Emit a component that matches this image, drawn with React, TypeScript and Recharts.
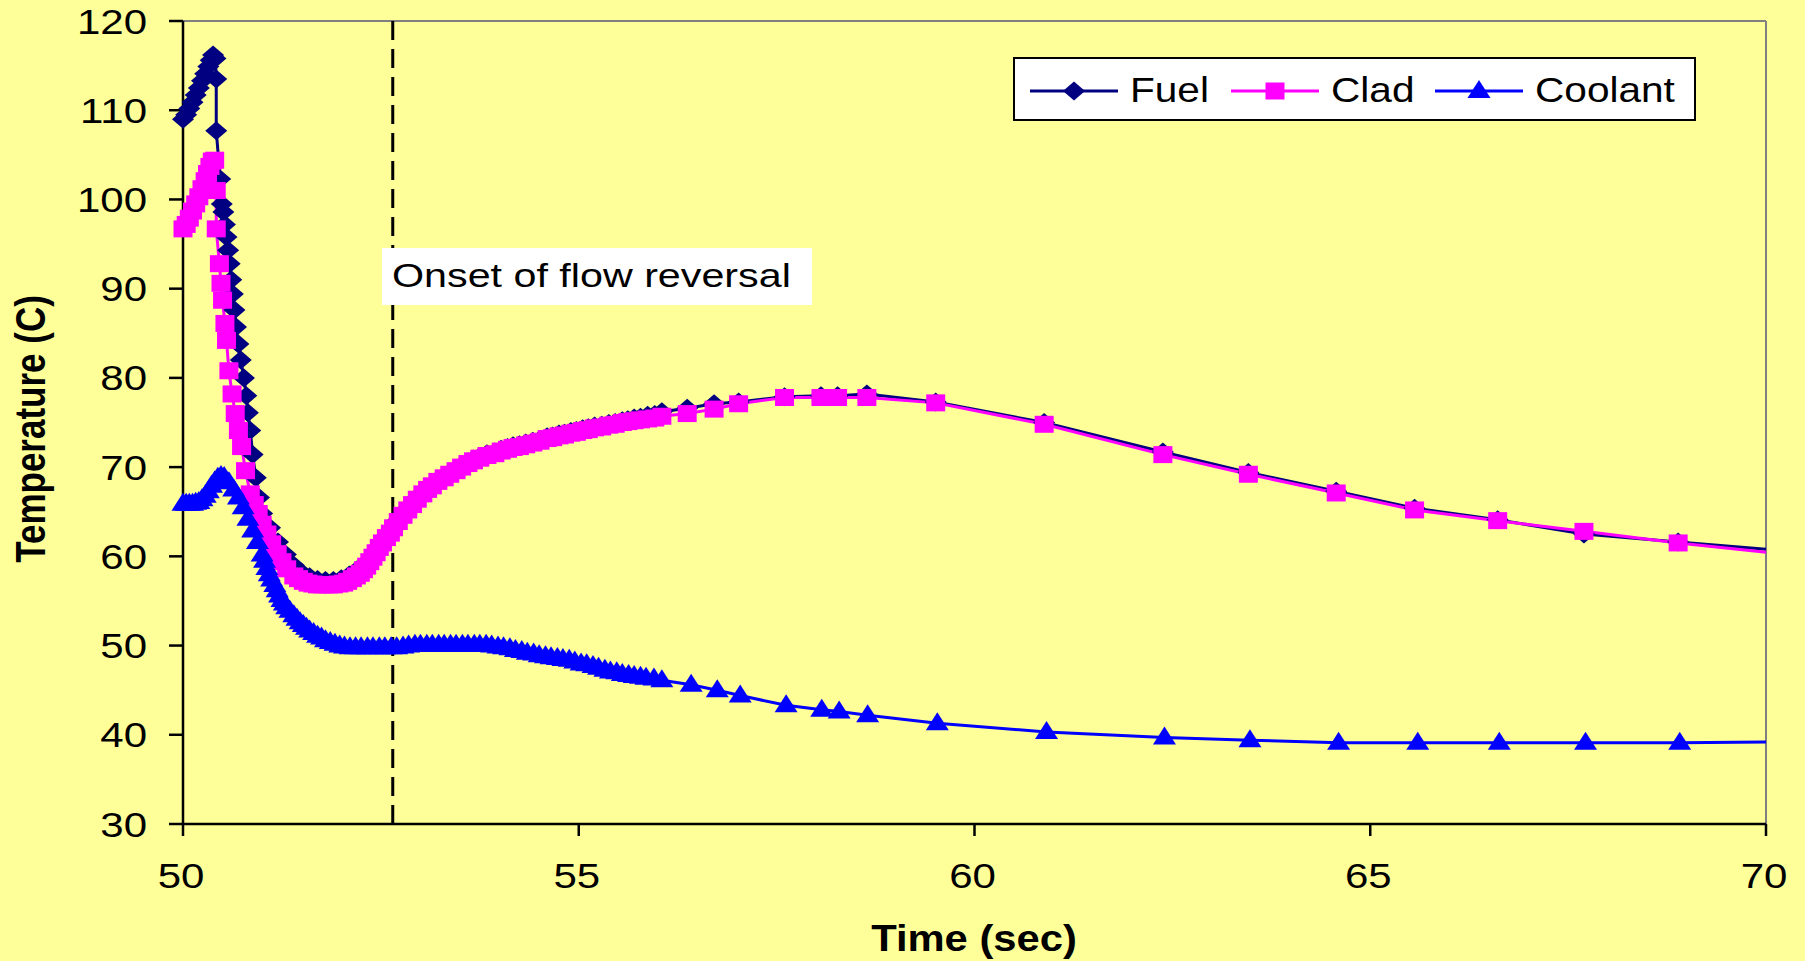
import React from 'react'
import { LineChart, Line, XAxis, YAxis, ReferenceLine, Legend } from 'recharts'

// [time (s), temperature (C)]
const FUEL: [number, number][] = [
  [50.00, 109.0], [50.04, 109.5], [50.08, 110.2], [50.12, 110.9], [50.16, 111.7], [50.20, 112.5],
  [50.24, 113.3], [50.28, 114.1], [50.32, 114.9], [50.35, 115.6], [50.38, 116.2], [50.41, 115.8],
  [50.42, 113.5], [50.42, 107.7], [50.47, 102.3], [50.49, 99.5], [50.51, 98.6], [50.53, 97.2],
  [50.55, 95.8], [50.57, 94.3], [50.59, 92.8], [50.61, 91.0], [50.63, 89.4], [50.65, 87.6],
  [50.67, 85.7], [50.70, 83.8], [50.73, 82.0], [50.77, 80.0], [50.80, 78.0], [50.82, 76.1],
  [50.85, 74.1], [50.88, 71.4], [50.92, 68.8], [50.96, 66.6], [51.00, 64.8], [51.10, 63.2],
  [51.20, 61.6], [51.30, 60.2], [51.40, 59.0], [51.50, 58.2], [51.60, 57.7], [51.70, 57.4],
  [51.80, 57.3], [51.90, 57.3], [52.00, 57.5], [52.10, 57.9], [52.20, 58.5], [52.30, 59.1],
  [52.36, 59.6], [52.40, 60.1], [52.44, 60.6], [52.48, 61.2], [52.52, 61.7], [52.57, 62.3],
  [52.62, 62.8], [52.66, 63.4], [52.72, 64.1], [52.78, 64.8], [52.84, 65.4], [52.90, 66.0],
  [52.96, 66.6], [53.03, 67.2], [53.09, 67.7], [53.15, 68.1], [53.22, 68.6], [53.30, 69.0],
  [53.37, 69.4], [53.45, 69.8], [53.52, 70.2], [53.60, 70.6], [53.67, 70.9], [53.75, 71.2],
  [53.84, 71.5], [53.94, 71.7], [54.02, 72.0], [54.10, 72.2], [54.17, 72.4], [54.25, 72.5],
  [54.33, 72.7], [54.42, 72.9], [54.51, 73.1], [54.60, 73.4], [54.67, 73.5], [54.75, 73.7],
  [54.82, 73.8], [54.90, 74.0], [54.97, 74.1], [55.05, 74.3], [55.12, 74.4], [55.20, 74.6],
  [55.29, 74.7], [55.38, 74.9], [55.46, 75.0], [55.55, 75.2], [55.62, 75.3], [55.70, 75.5],
  [55.78, 75.6], [55.87, 75.8], [55.96, 75.9], [56.05, 76.2], [56.37, 76.6], [56.71, 77.1],
  [57.02, 77.3], [57.60, 77.9], [58.06, 78.0], [58.27, 78.0], [58.64, 78.2], [59.51, 77.3],
  [60.88, 75.0], [62.38, 71.7], [63.46, 69.4], [64.57, 67.3], [65.56, 65.4], [66.61, 64.1],
  [67.70, 62.5], [68.89, 61.6], [70.00, 60.8],
]

const CLAD: [number, number][] = [
  [50.00, 96.7], [50.04, 97.2], [50.08, 97.9], [50.12, 98.7], [50.16, 99.5], [50.20, 100.3],
  [50.24, 101.2], [50.28, 102.1], [50.31, 102.9], [50.34, 103.7], [50.37, 104.3], [50.40, 104.4],
  [50.42, 101.0], [50.42, 96.7], [50.46, 92.8], [50.48, 90.6], [50.50, 88.7], [50.53, 86.1],
  [50.55, 84.2], [50.58, 80.8], [50.62, 78.2], [50.66, 76.0], [50.70, 74.1], [50.74, 72.3],
  [50.79, 69.6], [50.85, 67.0], [50.90, 65.8], [50.95, 64.8], [51.00, 63.6], [51.06, 62.5],
  [51.12, 61.4], [51.19, 60.3], [51.25, 59.4], [51.31, 58.6], [51.40, 57.8], [51.46, 57.5],
  [51.52, 57.2], [51.58, 57.0], [51.64, 56.9], [51.70, 56.8], [51.77, 56.8], [51.84, 56.8],
  [51.90, 56.8], [51.97, 56.9], [52.03, 57.0], [52.08, 57.2], [52.14, 57.5], [52.19, 57.8],
  [52.24, 58.1], [52.28, 58.5], [52.32, 58.9], [52.36, 59.4], [52.40, 59.9], [52.44, 60.4],
  [52.48, 61.0], [52.52, 61.5], [52.57, 62.1], [52.62, 62.6], [52.66, 63.2], [52.72, 63.9],
  [52.78, 64.6], [52.84, 65.2], [52.90, 65.8], [52.96, 66.4], [53.03, 67.0], [53.09, 67.5],
  [53.15, 67.9], [53.22, 68.4], [53.30, 68.8], [53.37, 69.2], [53.45, 69.6], [53.52, 70.0],
  [53.60, 70.4], [53.67, 70.7], [53.75, 71.0], [53.84, 71.3], [53.94, 71.5], [54.02, 71.8],
  [54.10, 72.0], [54.17, 72.2], [54.25, 72.3], [54.33, 72.5], [54.42, 72.7], [54.51, 72.9],
  [54.60, 73.2], [54.67, 73.3], [54.75, 73.5], [54.82, 73.6], [54.90, 73.8], [54.97, 73.9],
  [55.05, 74.1], [55.12, 74.2], [55.20, 74.4], [55.29, 74.5], [55.38, 74.7], [55.46, 74.8],
  [55.55, 75.0], [55.62, 75.1], [55.70, 75.2], [55.78, 75.3], [55.87, 75.4], [55.96, 75.5],
  [56.05, 75.7], [56.37, 76.0], [56.71, 76.5], [57.02, 77.1], [57.60, 77.8], [58.06, 77.8],
  [58.27, 77.8], [58.64, 77.8], [59.51, 77.2], [60.88, 74.8], [62.38, 71.4], [63.46, 69.2],
  [64.57, 67.1], [65.56, 65.2], [66.61, 64.0], [67.70, 62.8], [68.89, 61.5], [70.00, 60.45],
]

const COOLANT: [number, number][] = [
  [50.00, 65.9], [50.04, 65.9], [50.08, 65.9], [50.12, 65.9], [50.16, 66.0], [50.20, 66.1],
  [50.24, 66.4], [50.28, 66.8], [50.32, 67.3], [50.36, 67.9], [50.40, 68.4], [50.44, 68.8],
  [50.48, 69.0], [50.52, 68.9], [50.58, 68.3], [50.64, 67.5], [50.70, 66.6], [50.76, 65.5],
  [50.82, 64.2], [50.88, 62.9], [50.94, 61.6], [51.00, 60.2], [51.03, 59.5], [51.06, 58.7],
  [51.09, 58.0], [51.12, 57.4], [51.16, 56.8], [51.19, 56.2], [51.22, 55.6], [51.25, 55.1],
  [51.28, 54.7], [51.31, 54.3], [51.35, 53.9], [51.40, 53.4], [51.44, 53.0], [51.48, 52.6],
  [51.52, 52.3], [51.56, 52.0], [51.60, 51.7], [51.65, 51.4], [51.70, 51.1], [51.75, 50.9],
  [51.80, 50.6], [51.86, 50.4], [51.92, 50.2], [51.98, 50.0], [52.04, 49.9], [52.11, 49.8],
  [52.18, 49.8], [52.25, 49.8], [52.33, 49.8], [52.40, 49.8], [52.48, 49.8], [52.55, 49.8],
  [52.63, 49.8], [52.70, 49.8], [52.78, 49.9], [52.85, 50.0], [52.93, 50.1], [53.00, 50.1],
  [53.08, 50.1], [53.15, 50.1], [53.23, 50.1], [53.30, 50.1], [53.38, 50.1], [53.45, 50.1],
  [53.53, 50.1], [53.60, 50.1], [53.68, 50.1], [53.75, 50.1], [53.83, 50.1], [53.90, 50.0],
  [53.98, 49.9], [54.05, 49.8], [54.13, 49.7], [54.20, 49.5], [54.28, 49.4], [54.35, 49.2],
  [54.43, 49.1], [54.50, 48.9], [54.58, 48.8], [54.65, 48.7], [54.73, 48.6], [54.80, 48.5],
  [54.88, 48.4], [54.95, 48.2], [55.03, 48.0], [55.10, 47.9], [55.18, 47.7], [55.25, 47.5],
  [55.33, 47.3], [55.40, 47.1], [55.48, 47.0], [55.55, 46.8], [55.63, 46.7], [55.70, 46.6],
  [55.78, 46.5], [55.85, 46.4], [55.95, 46.3], [56.05, 46.1], [56.42, 45.6], [56.75, 45.0],
  [57.04, 44.4], [57.62, 43.3], [58.07, 42.8], [58.29, 42.6], [58.65, 42.2], [59.53, 41.3],
  [60.91, 40.3], [62.40, 39.7], [63.48, 39.4], [64.60, 39.1], [65.60, 39.1], [66.63, 39.1],
  [67.72, 39.1], [68.91, 39.1], [70.00, 39.2],
]

const X_TICKS = [50, 55, 60, 65, 70]
const Y_TICKS = [30, 40, 50, 60, 70, 80, 90, 100, 110, 120]
const FLOW_REVERSAL_T = 52.65

const BG = '#FFFF99'
const FONT = '"Liberation Sans", Arial, sans-serif'
const SX = 1.2 // glyphs in the reference are stretched horizontally

type Shape = 'diamond' | 'square' | 'triangle'

const SERIES: { name: string; color: string; shape: Shape; points: [number, number][] }[] = [
  { name: 'Fuel', color: '#000080', shape: 'diamond', points: FUEL },
  { name: 'Clad', color: '#FF00FF', shape: 'square', points: CLAD },
  { name: 'Coolant', color: '#0000FF', shape: 'triangle', points: COOLANT },
]

const toRows = (pts: [number, number][]) => pts.map(([t, v]) => ({ t, v }))

function Marker({ shape, cx, cy, color }: { shape: Shape; cx: number; cy: number; color: string }) {
  if (shape === 'diamond') {
    return <polygon points={`${cx},${cy - 9.5} ${cx + 11},${cy} ${cx},${cy + 9.5} ${cx - 11},${cy}`} fill={color} />
  }
  if (shape === 'square') {
    return <rect x={cx - 9.5} y={cy - 8.5} width={19} height={17} fill={color} />
  }
  return <polygon points={`${cx},${cy - 11} ${cx + 11.5},${cy + 7} ${cx - 11.5},${cy + 7}`} fill={color} />
}

const makeDot = (shape: Shape, color: string) => (props: any) => {
  const { cx, cy, index, payload } = props
  // the last point sits on the plot edge; its marker is clipped away in the original
  if (cx == null || cy == null || payload.t >= 70) return <g key={`d-${index}`} />
  return <Marker key={`d-${index}`} shape={shape} cx={cx} cy={cy} color={color} />
}

function StretchText({ x, y, size, anchor = 'start', weight = 'normal', sx = SX, children }: any) {
  return (
    <text
      transform={`translate(${x} ${y}) scale(${sx} 1)`}
      textAnchor={anchor}
      fontFamily={FONT}
      fontSize={size}
      fontWeight={weight}
      fill="#000"
    >
      {children}
    </text>
  )
}

const YTick = (props: any) => (
  <StretchText x={props.x} y={props.y + 12.5} size={35} anchor="end">{props.payload.value}</StretchText>
)

const XTick = (props: any) => (
  <StretchText x={props.x - 2} y={props.y + 25} size={35} anchor="middle">{props.payload.value}</StretchText>
)

const LEGEND_ITEM_X = [17, 218, 422]

function LegendBox() {
  return (
    <svg width={683} height={64} style={{ display: 'block' }}>
      <rect x={1} y={1} width={681} height={62} fill="#fff" stroke="#000" strokeWidth={2} />
      {SERIES.map((s, i) => {
        const x0 = LEGEND_ITEM_X[i]
        return (
          <g key={s.name}>
            <line x1={x0} y1={34} x2={x0 + 88} y2={34} stroke={s.color} strokeWidth={3} />
            <Marker shape={s.shape} cx={x0 + 44} cy={34} color={s.color} />
            <StretchText x={x0 + 100} y={45} size={35} sx={1.16}>{s.name}</StretchText>
          </g>
        )
      })}
    </svg>
  )
}

export default function App() {
  return (
    <div style={{ position: 'absolute', left: 0, top: 0, width: 1805, height: 961, background: BG, overflow: 'hidden' }}>
      <LineChart width={1805} height={961} margin={{ top: 21, right: 39, left: 0, bottom: 0 }}>
        <XAxis
          dataKey="t"
          type="number"
          domain={[50, 70]}
          ticks={X_TICKS}
          interval={0}
          height={137}
          tickSize={12}
          tickMargin={27}
          axisLine={{ stroke: '#000', strokeWidth: 2.5 }}
          tickLine={{ stroke: '#000', strokeWidth: 2.5 }}
          tick={XTick}
        />
        <YAxis
          type="number"
          domain={[30, 120]}
          ticks={Y_TICKS}
          interval={0}
          width={183}
          tickSize={14}
          tickMargin={22}
          axisLine={{ stroke: '#000', strokeWidth: 2.5 }}
          tickLine={{ stroke: '#000', strokeWidth: 2.5 }}
          tick={YTick}
        />
        <ReferenceLine y={120} stroke="#808080" strokeWidth={2} />
        <ReferenceLine x={70} stroke="#808080" strokeWidth={2} />
        {SERIES.map((s) => (
          <Line
            key={s.name}
            name={s.name}
            data={toRows(s.points)}
            dataKey="v"
            type="linear"
            stroke={s.color}
            strokeWidth={3}
            dot={makeDot(s.shape, s.color)}
            activeDot={false}
            isAnimationActive={false}
          />
        ))}
        <ReferenceLine x={FLOW_REVERSAL_T} stroke="#000" strokeWidth={3} strokeDasharray="19 9" />
        <Legend
          layout="horizontal"
          verticalAlign="middle"
          align="center"
          wrapperStyle={{ left: 1013, top: 57, width: 683, height: 64 }}
          content={() => <LegendBox />}
        />
      </LineChart>
      <svg width={1805} height={961} style={{ position: 'absolute', left: 0, top: 0, pointerEvents: 'none' }}>
        <text
          transform={`translate(30 429) rotate(-90) scale(1 ${SX})`}
          y={12.5}
          textAnchor="middle"
          fontFamily={FONT}
          fontSize={35}
          fontWeight="bold"
          fill="#000"
        >
          Temperature (C)
        </text>
        <StretchText x={974} y={951} size={36} anchor="middle" weight="bold" sx={1.16}>Time (sec)</StretchText>
        <rect x={382} y={248} width={430} height={57} fill="#fff" />
        <StretchText x={392} y={287} size={33} sx={1.25}>Onset of flow reversal</StretchText>
      </svg>
    </div>
  )
}
